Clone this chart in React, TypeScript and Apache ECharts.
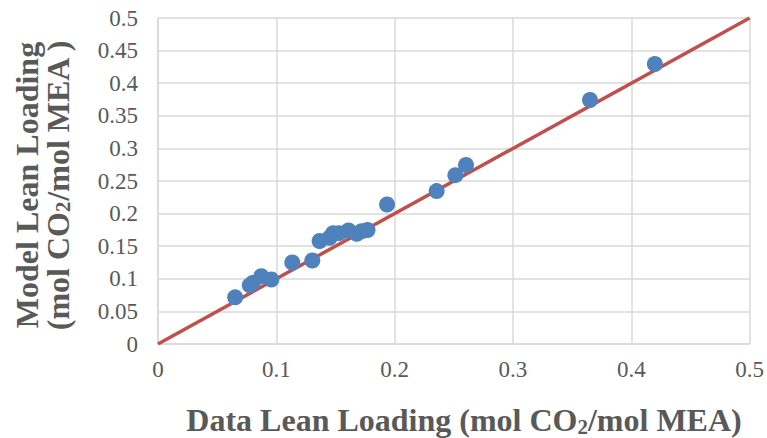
import React, { useEffect, useRef } from "react";
import * as echarts from "echarts";

const dataX: number[] = [0.0652, 0.0776, 0.08, 0.0873, 0.0958, 0.1135, 0.1304, 0.1366, 0.145, 0.148, 0.153, 0.161, 0.168, 0.172, 0.1771, 0.1936, 0.2355, 0.2513, 0.2603, 0.3651, 0.4199];
const modelY: number[] = [0.0716, 0.09, 0.0935, 0.104, 0.099, 0.125, 0.128, 0.158, 0.163, 0.17, 0.17, 0.174, 0.169, 0.173, 0.1748, 0.214, 0.2345, 0.259, 0.2745, 0.3742, 0.4294];
const parityLine: number[][] = [[0, 0], [0.5, 0.5]];
const xTitle = "Data Lean Loading (mol CO{sub|2}/mol MEA)";
const yTitle = "Model Lean Loading\n(mol CO{sub|2}/mol MEA )";

const TEXT = "#595959";
const FONT = "Liberation Serif";

export default function App() {
  const ref = useRef<HTMLDivElement>(null);
  useEffect(() => {
    if (!ref.current) return;
    const chart = echarts.init(ref.current, undefined, { renderer: "svg" });
    const titleRich = {
      sub: { fontSize: 21, fontWeight: "bold", fontFamily: FONT, fill: TEXT, color: TEXT, lineHeight: 16, verticalAlign: "bottom" },
    };
    chart.setOption({
      animation: false,
      grid: { left: 158, right: 16, top: 18, bottom: 94 },
      xAxis: {
        type: "value",
        min: 0,
        max: 0.5,
        interval: 0.1,
        axisLine: { show: true, lineStyle: { color: "#d9d9d9", width: 1.5 } },
        axisTick: { show: false },
        splitLine: { show: true, lineStyle: { color: "#d9d9d9", width: 1.5 } },
        axisLabel: { color: TEXT, fontSize: 23, fontFamily: FONT, margin: 14 },
      },
      yAxis: {
        type: "value",
        min: 0,
        max: 0.5,
        interval: 0.05,
        axisLine: { show: true, lineStyle: { color: "#d9d9d9", width: 1.5 } },
        axisTick: { show: false },
        splitLine: { show: true, lineStyle: { color: "#d9d9d9", width: 1.5 } },
        axisLabel: { color: TEXT, fontSize: 23, fontFamily: FONT, margin: 20 },
      },
      series: [
        {
          type: "line",
          data: parityLine,
          symbol: "none",
          lineStyle: { color: "#c0504d", width: 3.5 },
          z: 2,
        },
        {
          type: "scatter",
          data: dataX.map((x, i) => [x, modelY[i]]),
          symbol: "circle",
          symbolSize: 16,
          itemStyle: { color: "#4f81bd", opacity: 1 },
          z: 3,
        },
      ],
      graphic: [
        {
          type: "text",
          x: 464,
          y: 420,
          style: {
            text: xTitle,
            x: 0,
            y: 0,
            fontSize: 32,
            fontWeight: "bold",
            fontFamily: FONT,
            fill: TEXT,
            lineHeight: 34,
            align: "center",
            textAlign: "center",
            verticalAlign: "middle",
            textVerticalAlign: "middle",
            rich: titleRich,
          },
        },
        {
          type: "text",
          x: 42,
          y: 185,
          rotation: Math.PI / 2,
          style: {
            text: yTitle,
            x: 0,
            y: 0,
            fontSize: 32,
            fontWeight: "bold",
            fontFamily: FONT,
            fill: TEXT,
            lineHeight: 31,
            align: "center",
            textAlign: "center",
            verticalAlign: "middle",
            textVerticalAlign: "middle",
            rich: titleRich,
          },
        },
      ],
    });
    return () => chart.dispose();
  }, []);
  return <div ref={ref} style={{ position: "absolute", left: 0, top: 0, width: 767, height: 438 }} />;
}
